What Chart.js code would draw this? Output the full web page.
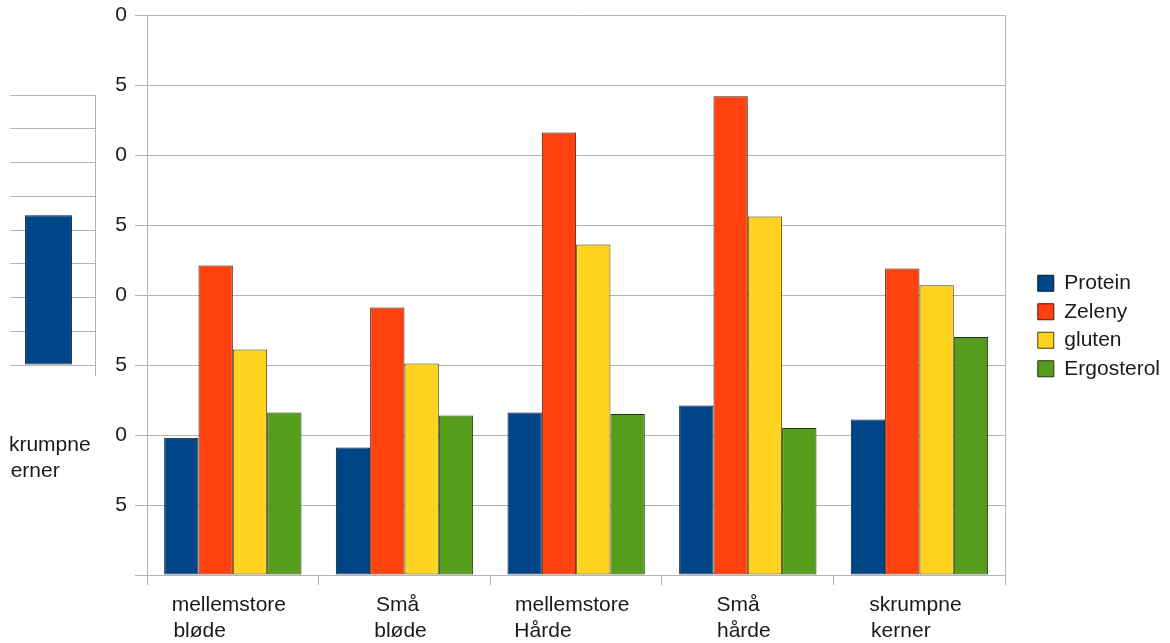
<!DOCTYPE html>
<html>
<head>
<meta charset="utf-8">
<script src="https://cdn.jsdelivr.net/npm/chart.js@4.4.0/dist/chart.umd.min.js"></script>
<style>
  html, body { margin: 0; padding: 0; background: #fff; overflow: hidden; }
  #main { position: absolute; left: 0; top: 0; }
  #side { position: absolute; left: 10px; top: 0; width: 100px; height: 500px; overflow: hidden; }
  #mini { position: absolute; left: -10px; top: 0; }
</style>
</head>
<body>
<canvas id="main" width="1170" height="637"></canvas>
<div id="side"><canvas id="mini" width="110" height="500"></canvas></div>
<script>
// categories + series
const categories = [
  ["mellemstore", "bløde"],
  ["Små", "bløde"],
  ["mellemstore", "Hårde"],
  ["Små", "hårde"],
  ["skrumpne", "kerner"]
];
const protein    = [9.8, 9.1, 11.6, 12.1, 11.1];
const zeleny     = [22.1, 19.1, 31.6, 34.2, 21.9];
const gluten     = [16.1, 15.1, 23.6, 25.6, 20.7];
const ergosterol = [11.6, 11.4, 11.5, 10.5, 17.0];
const seriesNames = ["Protein", "Zeleny", "gluten", "Ergosterol"];
// y labels as they show (first digit hidden), value 0 .. 40 step 5
const yTickLabels = ["", "5", "0", "5", "0", "5", "0", "5", "0"];

// small chart on the left, only one bar of it is visible
const miniCategories = [["skrumpne", "kerner"]];
const miniValues = [protein[4]];

const FONT = '"Liberation Sans", Arial, sans-serif';
const TEXT = "#1a1a1a";
const GRID = "#b3b3b3";
const COLORS = ["#004586", "#ff420e", "#ffd320", "#579d1c"];
const BORDERS = ["#001a33", "#4a1604", "#4a3e0a", "#1c3309"];

Chart.defaults.font.family = FONT;
Chart.defaults.font.size = 21;
Chart.defaults.color = TEXT;
Chart.defaults.animation = false;

// lines of a label are left aligned in the original, pad short lines
const measure = document.createElement("canvas").getContext("2d");
measure.font = "21px " + FONT;
function alignLines(lines) {
  const w = Math.max(...lines.map(l => measure.measureText(l).width));
  return lines.map(l => {
    let s = l;
    while (measure.measureText(s + "\u00a0").width <= w + 2) s += "\u00a0";
    return s;
  });
}

// no extra room for labels sticking out, layout padding decides
function noPad(s) {
  s.paddingTop = 0; s.paddingBottom = 0; s.paddingLeft = 0; s.paddingRight = 0;
}

const allSeries = [protein, zeleny, gluten, ergosterol];
const datasets = allSeries.map((data, i) => ({
  label: seriesNames[i],
  data,
  backgroundColor: COLORS[i],
  borderColor: BORDERS[i],
  borderWidth: 1,
  borderSkipped: false,
  barPercentage: 1,
  categoryPercentage: 0.8
}));

new Chart(document.getElementById("main"), {
  type: "bar",
  data: { labels: categories.map(alignLines), datasets },
  options: {
    responsive: false,
    layout: { padding: { top: 15, left: 0, right: 0, bottom: 0 } },
    plugins: {
      tooltip: { enabled: false },
      legend: {
        position: "right",
        labels: { boxWidth: 16, boxHeight: 16, padding: 7.5, color: TEXT, font: { size: 21 } }
      }
    },
    scales: {
      x: {
        grid: { drawOnChartArea: false, tickLength: 10, color: GRID, offset: true },
        border: { color: GRID },
        ticks: { padding: 8, labelOffset: -4, maxRotation: 0, autoSkip: false, color: TEXT },
        afterFit: s => { s.height = 62; noPad(s); }
      },
      y: {
        min: 0, max: 40,
        ticks: { stepSize: 5, padding: 8, color: TEXT, callback: (v, i) => yTickLabels[i] },
        grid: { color: GRID, tickLength: 12 },
        border: { color: GRID },
        afterFit: s => { s.width = 147; noPad(s); }
      },
      y2: {
        position: "right", min: 0, max: 1,
        grid: { drawOnChartArea: false, drawTicks: false },
        ticks: { display: false },
        border: { color: GRID },
        afterFit: s => { s.width = 25; noPad(s); }
      }
    }
  }
});

new Chart(document.getElementById("mini"), {
  type: "bar",
  data: {
    labels: miniCategories.map(alignLines),
    datasets: [{
      label: seriesNames[0],
      data: miniValues,
      backgroundColor: COLORS[0],
      borderColor: BORDERS[0],
      borderWidth: 1,
      borderSkipped: false,
      barPercentage: 0.63,
      categoryPercentage: 0.8
    }]
  },
  options: {
    responsive: false,
    layout: { padding: { top: 95, left: 2, right: 0, bottom: 0 } },
    plugins: { legend: { display: false }, tooltip: { enabled: false } },
    scales: {
      x: {
        grid: { drawOnChartArea: false, tickLength: 11, color: GRID, offset: true },
        border: { color: GRID },
        ticks: { padding: 57, labelOffset: -4, maxRotation: 0, autoSkip: false, color: TEXT },
        afterFit: s => { s.height = 500 - 365; noPad(s); }
      },
      y: {
        min: 0, max: 20,
        ticks: { stepSize: 2.5, display: false },
        grid: { color: GRID, drawTicks: false },
        border: { display: false },
        afterFit: s => { s.width = 0; noPad(s); }
      },
      y2: {
        position: "right", min: 0, max: 1,
        grid: { drawOnChartArea: false, drawTicks: false },
        ticks: { display: false },
        border: { color: GRID },
        afterFit: s => { s.width = 15; noPad(s); }
      }
    }
  }
});
</script>
</body>
</html>
